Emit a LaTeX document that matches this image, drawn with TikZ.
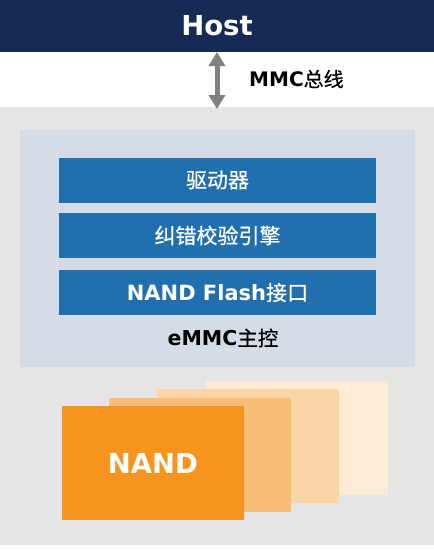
\documentclass[tikz,border=0pt]{standalone}
\usepackage{fontspec}
\setmainfont{DejaVu Sans}
\newfontfamily\cjk{Noto Sans CJK SC}[FakeBold=0.5]
\usetikzlibrary{arrows.meta}
\definecolor{navy}{RGB}{23,42,84}
\definecolor{barblue}{RGB}{34,111,176}
\definecolor{ctrlbg}{RGB}{214,220,230}
\definecolor{graybg}{RGB}{229,229,229}
\definecolor{arrowgray}{RGB}{128,128,128}
\definecolor{nand1}{RGB}{247,148,30}
\definecolor{nand2}{RGB}{248,190,120}
\definecolor{nand3}{RGB}{251,213,166}
\definecolor{nand4}{RGB}{253,235,214}
\tikzset{
  box/.style={draw=none, inner sep=0pt, outer sep=0pt, anchor=north west},
  bar/.style={box, fill=barblue, minimum width=317pt, minimum height=45pt},
  bartext/.style={text=white, inner sep=0pt, font=\fontsize{21}{24}\selectfont},
  chip/.style={box, minimum width=182pt, minimum height=114pt},
}
\begin{document}
\begin{tikzpicture}[x=1pt,y=-1pt]
\useasboundingbox (0,0) rectangle (434,550);
\fill[white] (0,0) rectangle (434,550);
% background bands
\node[box, fill=graybg, minimum width=434pt, minimum height=438pt] (bg) at (0,107) {};
\node[box, fill=navy, minimum width=434pt, minimum height=52pt] (host) at (0,0) {};
\node[text=white, inner sep=0pt, font=\fontsize{27.5}{30}\selectfont\bfseries] (hostlbl) at (217,26) {Host};
% bus arrow
\coordinate (arrtop) at (217,52);
\coordinate (arrbot) at (217,109);
\draw[arrowgray, line width=5pt, {Triangle[width=16pt,length=14pt]}-{Triangle[width=16pt,length=14pt]}] (arrtop) -- (arrbot);
\node[anchor=west, inner sep=0pt, font=\fontsize{20}{24}\selectfont] (bus) at (249,79) {\bfseries MMC{\mdseries\cjk 总线}};
% controller
\node[box, fill=ctrlbg, minimum width=395pt, minimum height=237pt] (ctrl) at (20,130) {};
\node[bar] (drv) at (59,158) {};
\node[bartext] (drvlbl) at (217.5,180) {\cjk 驱动器};
\node[bar] (ecc) at (59,213) {};
\node[bartext] (ecclbl) at (217.5,235.5) {\cjk 纠错校验引擎};
\node[bar] (nif) at (59,270) {};
\node[bartext] (niflbl) at (217.5,292.5) {\bfseries NAND Flash{\mdseries\cjk 接口}};
\node[inner sep=0pt, font=\fontsize{20.5}{24}\selectfont] (ctrllbl) at (223,338) {\bfseries eMMC{\mdseries\cjk 主控}};
% NAND stack
\node[chip, fill=nand4] (n4) at (206,381) {};
\node[chip, fill=nand3] (n3) at (157,389) {};
\node[chip, fill=nand2] (n2) at (109,398) {};
\node[chip, fill=nand1] (n1) at (62,406) {};
\node[text=white, inner sep=0pt, font=\fontsize{27.5}{30}\selectfont\bfseries] (nandlbl) at (153,463) {NAND};
\end{tikzpicture}
\end{document}
